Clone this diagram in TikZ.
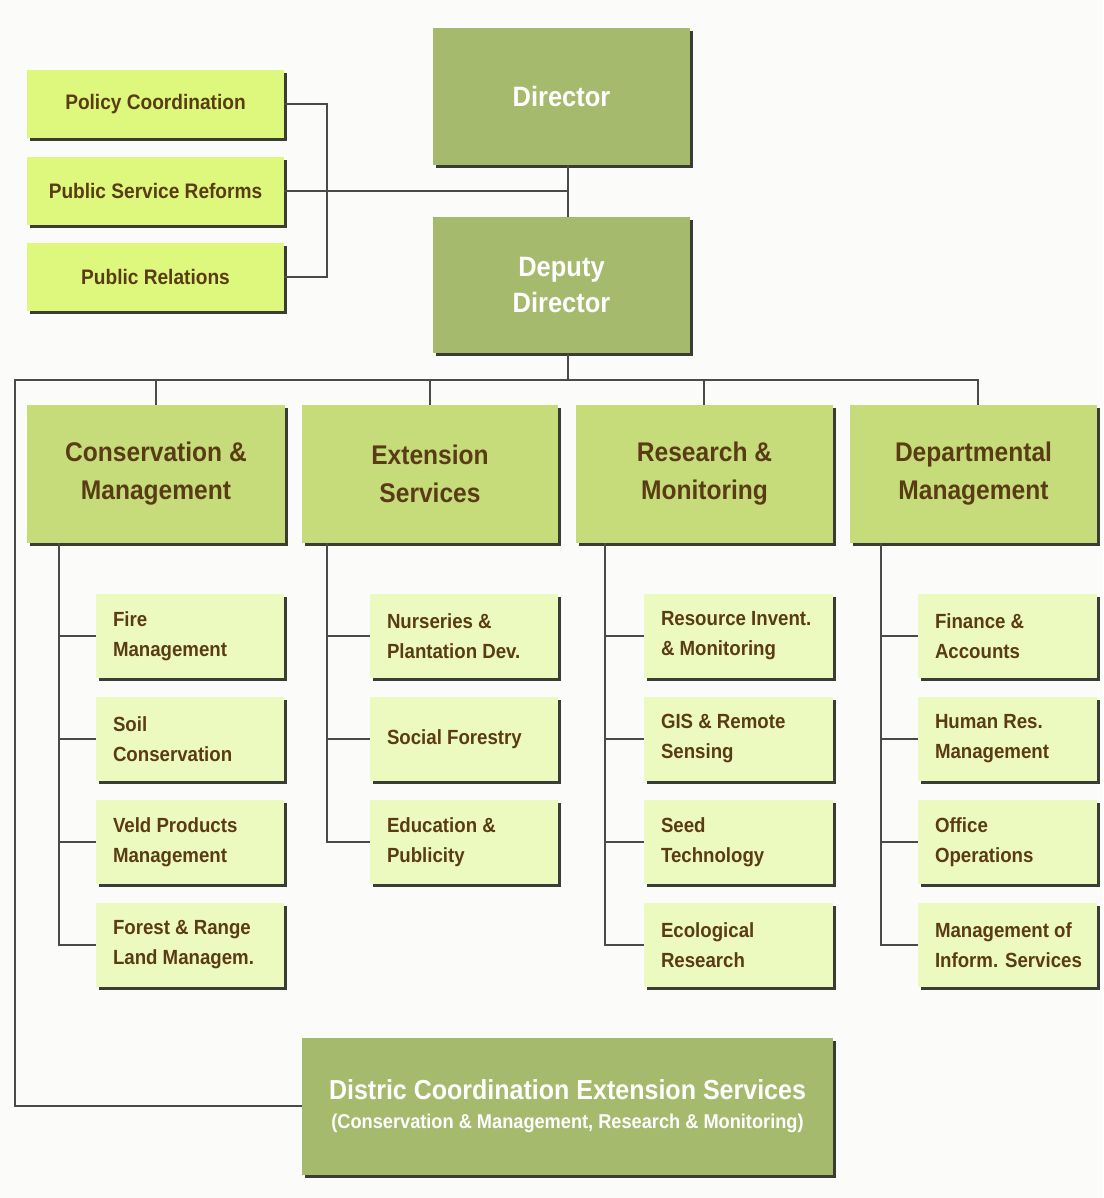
\documentclass[tikz,border=0pt]{standalone}
\usepackage{fontspec}
\newfontfamily\chartfont[FakeStretch=0.91]{Liberation Sans Bold}
\usetikzlibrary{shadows}

\definecolor{pagebg}{HTML}{FBFCFA}
\definecolor{leadgreen}{HTML}{A6BA6E}
\definecolor{divgreen}{HTML}{C6DC7B}
\definecolor{staffgreen}{HTML}{DDF87C}
\definecolor{unitgreen}{HTML}{EDFABF}
\definecolor{inkbrown}{HTML}{5A3C14}
\definecolor{linkgray}{HTML}{4A4A4A}
\definecolor{shadowgray}{HTML}{3A3D33}

\tikzset{
  box/.style={rectangle, inner sep=0pt, draw=none,
    general shadow={fill=shadowgray, shadow xshift=3pt, shadow yshift=-3pt}},
  lead/.style={box, fill=leadgreen, text=white, align=center,
    font=\chartfont\fontsize{28}{36}\selectfont},
  division/.style={box, fill=divgreen, text=inkbrown, align=center,
    minimum height=138pt, font=\chartfont\fontsize{27}{38}\selectfont},
  staff/.style={box, fill=staffgreen, text=inkbrown, align=center,
    minimum width=257pt, minimum height=68pt,
    font=\chartfont\fontsize{21}{26}\selectfont},
  unit/.style={box, fill=unitgreen, minimum height=84pt},
  unittext/.style={inner sep=0pt, text=inkbrown, align=left, anchor=west,
    font=\chartfont\fontsize{20.5}{30}\selectfont},
  link/.style={draw=linkgray, line width=1.8pt},
}

% unit box: name, centre x, centre y, width, text
\newcommand{\unitbox}[5]{%
  \node[unit, minimum width=#4pt] (#1) at (#2,#3) {};
  \node[unittext] (#1-t) at ([xshift=17pt]#1.west) {#5};
}

\begin{document}
\begin{tikzpicture}[x=1pt, y=-1pt]
  \fill[pagebg] (0,0) rectangle (1103,1198);
  \useasboundingbox (0,0) rectangle (1103,1198);

  % top management
  \node[lead, minimum width=257pt, minimum height=137pt] (director) at (561.5,96.5) {Director};
  \node[lead, minimum width=257pt, minimum height=136pt] (deputy) at (561.5,285) {Deputy\\Director};

  % staff functions
  \node[staff] (policy) at (155.5,104) {Policy Coordination};
  \node[staff] (reforms) at (155.5,191) {Public Service Reforms};
  \node[staff] (relations) at (155.5,277) {Public Relations};

  % divisions
  \node[division, minimum width=258pt] (cons) at (156,474) {Conservation \&\\Management};
  \node[division, minimum width=256pt] (ext) at (430,474) {Extension\\Services};
  \node[division, minimum width=257pt] (res) at (704.5,474) {Research \&\\Monitoring};
  \node[division, minimum width=247pt] (dept) at (973.5,474) {Departmental\\Management};

  % district office
  \node[lead, minimum width=531pt, minimum height=137pt] (district) at (567.5,1106)
    {\fontsize{27.5}{32}\selectfont Distric Coordination Extension Services\\[-7pt]
     \fontsize{20}{25}\selectfont (Conservation \& Management, Research \& Monitoring)};

  % units
  \unitbox{fire}{190}{636}{188}{Fire\\Management}
  \unitbox{soil}{190}{739}{188}{Soil\\Conservation}
  \unitbox{veld}{190}{842}{188}{Veld Products\\Management}
  \unitbox{forest}{190}{945}{188}{Forest \& Range\\Land Managem.}

  \unitbox{nurs}{464}{636}{188}{Nurseries \&\\Plantation Dev.}
  \unitbox{social}{464}{739}{188}{Social Forestry}
  \unitbox{edu}{464}{842}{188}{Education \&\\Publicity}

  \unitbox{inv}{738.5}{636}{189}{Resource Invent.\\\& Monitoring}
  \unitbox{gis}{738.5}{739}{189}{GIS \& Remote\\Sensing}
  \unitbox{seed}{738.5}{842}{189}{Seed\\Technology}
  \unitbox{eco}{738.5}{945}{189}{Ecological\\Research}

  \unitbox{fin}{1007.5}{636}{179}{Finance \&\\Accounts}
  \unitbox{hr}{1007.5}{739}{179}{Human Res.\\Management}
  \unitbox{office}{1007.5}{842}{179}{Office\\Operations}
  \unitbox{mis}{1007.5}{945}{179}{Management of\\Inform. Services}

  % routing points
  \coordinate (staffbus) at (327,0);
  \coordinate (trunk) at (568,0);
  \coordinate (busL) at (15,380);
  \coordinate (busR) at (978,380);
  \coordinate (resdrop) at (704,380);
  \coordinate (consspine) at (59,0);
  \coordinate (extspine) at (327,0);
  \coordinate (resspine) at (605,0);
  \coordinate (deptspine) at (881,0);

  % top connectors
  \draw[link] (policy.east) -- (policy.east -| staffbus) -- (relations.east -| staffbus) -- (relations.east);
  \draw[link] (reforms.east) -- (reforms.east -| trunk);
  \draw[link] (director.south -| trunk) -- (deputy.north -| trunk);
  \draw[link] (deputy.south -| trunk) -- (trunk |- busL);
  \draw[link] (district.west) -| (busL) -- (busR) -- (busR |- dept.north);
  \draw[link] (cons.north) -- (cons.north |- busL);
  \draw[link] (ext.north) -- (ext.north |- busL);
  \draw[link] (res.north -| resdrop) -- (resdrop);

  % division to unit connectors
  \draw[link] (cons.south -| consspine) |- (forest.west);
  \draw[link] (consspine |- fire.west) -- (fire.west);
  \draw[link] (consspine |- soil.west) -- (soil.west);
  \draw[link] (consspine |- veld.west) -- (veld.west);

  \draw[link] (ext.south -| extspine) |- (edu.west);
  \draw[link] (extspine |- nurs.west) -- (nurs.west);
  \draw[link] (extspine |- social.west) -- (social.west);

  \draw[link] (res.south -| resspine) |- (eco.west);
  \draw[link] (resspine |- inv.west) -- (inv.west);
  \draw[link] (resspine |- gis.west) -- (gis.west);
  \draw[link] (resspine |- seed.west) -- (seed.west);

  \draw[link] (dept.south -| deptspine) |- (mis.west);
  \draw[link] (deptspine |- fin.west) -- (fin.west);
  \draw[link] (deptspine |- hr.west) -- (hr.west);
  \draw[link] (deptspine |- office.west) -- (office.west);
\end{tikzpicture}
\end{document}
